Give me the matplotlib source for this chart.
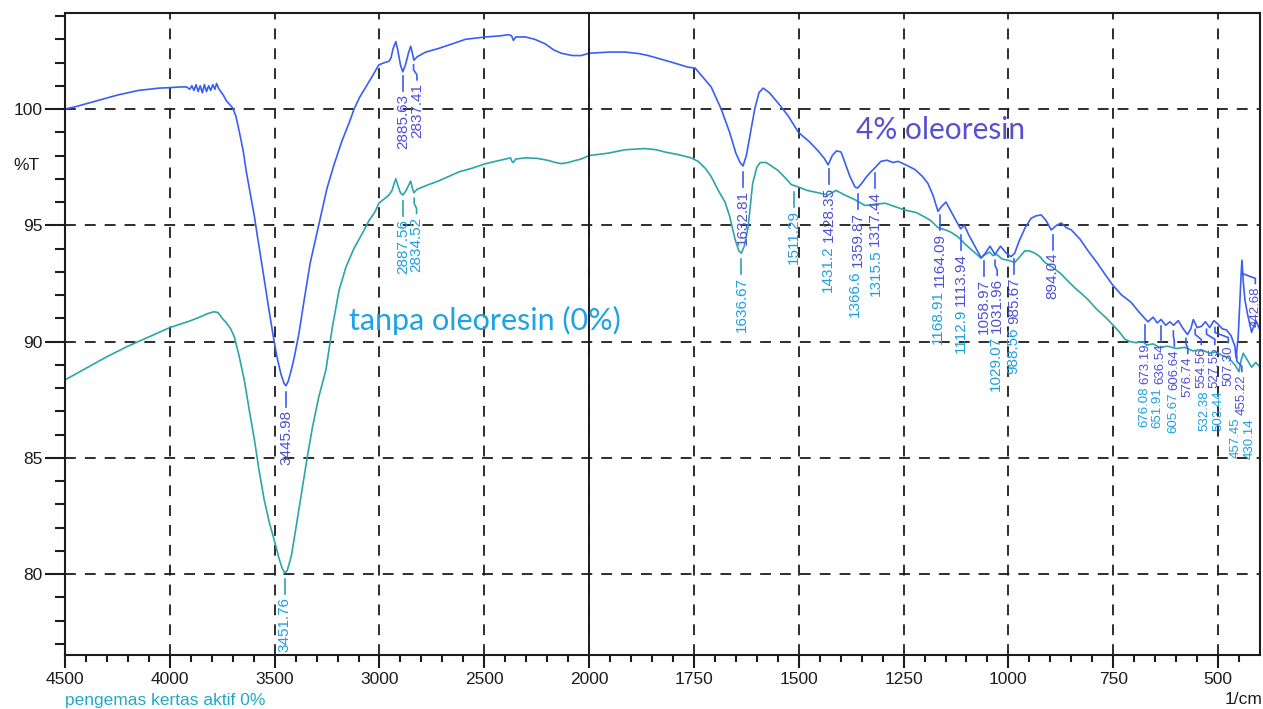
import matplotlib
matplotlib.use("Agg")
import matplotlib.pyplot as plt
import numpy as np
from matplotlib.ticker import FixedLocator

W, H = 1263, 709

# 4% oleoresin spectrum (wavenumber 1/cm, %T)
blue_wn = [4500, 4450, 4350, 4250, 4150, 4050, 4000, 3950, 3920, 3905, 3895, 3885, 3875, 3865,
           3855, 3845, 3835, 3825, 3815, 3805, 3795, 3785, 3777, 3765, 3745, 3730, 3715, 3700,
           3685, 3668, 3650, 3635, 3615, 3597, 3580, 3564, 3545, 3526, 3508, 3488, 3470, 3455,
           3446, 3435, 3420, 3407, 3385, 3359, 3330, 3300, 3288, 3250, 3217, 3180, 3145, 3121,
           3095, 3065, 3035, 3003, 2975, 2955, 2945, 2935, 2922, 2912, 2900, 2889, 2876, 2862,
           2851, 2843, 2836, 2820, 2779, 2720, 2670, 2589, 2494, 2420, 2385, 2370, 2361, 2350,
           2304, 2260, 2209, 2170, 2133, 2080, 2038, 2000, 1950, 1914, 1880, 1859, 1810, 1764,
           1747, 1730, 1709, 1685, 1665, 1650, 1640, 1633, 1625, 1615, 1605, 1595, 1585, 1570,
           1549, 1525, 1501, 1475, 1454, 1440, 1430, 1420, 1410, 1399, 1390, 1378, 1366, 1360,
           1350, 1338, 1328, 1317, 1304, 1290, 1275, 1263, 1245, 1223, 1205, 1192, 1180, 1168,
           1160, 1149, 1140, 1128, 1114, 1105, 1095, 1080, 1065, 1055, 1044, 1032, 1019, 1005,
           994, 985, 975, 960, 946, 935, 922, 910, 898, 885, 874, 862, 850, 829, 810, 789, 770,
           750, 730, 708, 690, 675, 667, 655, 645, 636, 625, 615, 606, 595, 585, 573, 565, 559,
           550, 540, 530, 520, 510, 500, 490, 480, 469, 460, 457, 452, 448, 445, 443, 440, 436,
           430, 425, 420, 410, 400]
blue_t = [100.0, 100.1, 100.35, 100.6, 100.8, 100.9, 100.92, 100.95, 100.95, 100.85, 101.0, 100.8,
          101.05, 100.75, 101.0, 100.7, 101.05, 100.75, 101.0, 100.8, 101.05, 100.85, 101.1, 100.85,
          100.6, 100.35, 100.2, 100.05, 99.7, 99.0, 98.2, 97.3, 96.3, 95.4, 94.4, 93.5, 92.4, 91.3,
          90.3, 89.3, 88.6, 88.2, 88.1, 88.3, 88.8, 89.3, 90.3, 91.8, 93.4, 94.6, 95.1, 96.6, 97.6,
          98.6, 99.4, 100.0, 100.5, 100.95, 101.4, 101.9, 102.0, 102.05, 102.2, 102.6, 102.9, 102.5,
          101.9, 101.6, 101.9, 102.4, 102.7, 102.4, 102.1, 102.25, 102.45, 102.6, 102.75, 103.0,
          103.1, 103.15, 103.2, 103.15, 102.95, 103.1, 103.1, 103.0, 102.8, 102.55, 102.4, 102.3,
          102.3, 102.4, 102.45, 102.45, 102.38, 102.3, 102.05, 101.8, 101.76, 101.4, 100.95, 100.0,
          99.0, 98.1, 97.7, 97.55, 98.0, 99.0, 100.0, 100.7, 100.9, 100.7, 100.25, 99.7, 99.0, 98.6,
          98.2, 97.9, 97.6, 98.0, 98.2, 98.15, 97.7, 97.1, 96.65, 96.6, 96.8, 97.1, 97.3, 97.5,
          97.75, 97.8, 97.7, 97.75, 97.6, 97.4, 97.1, 96.8, 96.3, 95.6, 95.8, 96.0, 95.7, 95.3,
          94.85, 95.0, 94.6, 94.1, 93.6, 93.8, 94.1, 93.75, 94.1, 93.8, 93.65, 93.8, 94.3, 94.9,
          95.3, 95.4, 95.45, 95.2, 94.8, 95.0, 95.1, 94.9, 94.8, 94.4, 93.9, 93.4, 92.9, 92.4,
          92.0, 91.7, 91.3, 91.0, 90.85, 91.05, 90.8, 90.95, 90.7, 90.85, 90.7, 90.9, 90.6, 90.3,
          90.55, 90.95, 90.6, 90.65, 90.85, 90.6, 90.9, 90.75, 90.55, 90.5, 90.25, 89.8, 89.3,
          90.2, 91.8, 92.9, 93.5, 92.6, 91.8, 91.2, 90.8, 90.4, 90.9, 90.5]

# tanpa oleoresin (0%) spectrum
teal_wn = [4500, 4400, 4300, 4200, 4100, 4000, 3950, 3900, 3858, 3820, 3790, 3770, 3750, 3730,
           3710, 3692, 3670, 3644, 3620, 3597, 3575, 3550, 3525, 3500, 3480, 3464, 3452, 3440,
           3420, 3400, 3370, 3345, 3320, 3290, 3255, 3225, 3193, 3160, 3122, 3085, 3050, 3020,
           3003, 2975, 2955, 2940, 2930, 2922, 2912, 2900, 2889, 2876, 2862, 2851, 2843, 2836,
           2820, 2780, 2720, 2670, 2620, 2560, 2494, 2447, 2400, 2375, 2368, 2362, 2350, 2304,
           2250, 2200, 2160, 2133, 2100, 2060, 2038, 2000, 1955, 1914, 1866, 1840, 1819, 1790,
           1757, 1740, 1723, 1709, 1692, 1676, 1665, 1652, 1643, 1637, 1630, 1621, 1617, 1610,
           1600, 1592, 1578, 1565, 1549, 1530, 1518, 1501, 1480, 1454, 1430, 1411, 1390, 1366,
           1342, 1320, 1294, 1270, 1246, 1220, 1199, 1185, 1168, 1150, 1137, 1120, 1104, 1085,
           1066, 1055, 1045, 1037, 1028, 1015, 1001, 985, 975, 961, 950, 937, 925, 913, 895, 874,
           858, 841, 825, 810, 790, 766, 750, 735, 722, 710, 695, 680, 670, 655, 640, 620, 600,
           580, 560, 540, 520, 505, 490, 475, 460, 450, 445, 440, 430, 420, 410, 400]
teal_t = [88.35, 88.85, 89.35, 89.8, 90.2, 90.6, 90.75, 90.9, 91.05, 91.2, 91.28, 91.25, 91.0,
          90.8, 90.55, 90.2, 89.4, 88.3, 87.0, 85.8, 84.5, 83.2, 82.2, 81.4, 80.7, 80.25, 80.05,
          80.15, 80.8, 81.9, 83.6, 85.0, 86.3, 87.6, 88.8, 90.6, 92.2, 93.2, 94.0, 94.6, 95.2,
          95.6, 95.95, 96.15, 96.3, 96.5, 96.8, 97.0, 96.7, 96.4, 96.3, 96.45, 96.7, 96.9, 96.6,
          96.4, 96.55, 96.7, 96.9, 97.1, 97.3, 97.45, 97.65, 97.75, 97.85, 97.9, 97.75, 97.7,
          97.85, 97.9, 97.88, 97.8, 97.7, 97.65, 97.7, 97.8, 97.85, 98.0, 98.1, 98.25, 98.3,
          98.25, 98.15, 98.05, 97.9, 97.75, 97.45, 97.1, 96.5, 96.0, 95.4, 94.4, 93.9, 93.8,
          94.1, 94.9, 95.6, 96.8, 97.5, 97.7, 97.7, 97.55, 97.35, 97.0, 96.75, 96.65, 96.5,
          96.4, 96.3, 96.5, 96.3, 96.1, 95.85, 95.9, 95.95, 95.8, 95.65, 95.55, 95.35, 95.2,
          94.9, 94.8, 94.7, 94.5, 94.2, 93.9, 93.6, 93.75, 93.85, 93.7, 93.75, 93.55, 93.5,
          93.4, 93.6, 93.9, 93.9, 93.8, 93.65, 93.4, 93.2, 92.9, 92.6, 92.3, 92.05, 91.8, 91.4,
          91.0, 90.7, 90.4, 90.1, 90.0, 89.95, 90.0, 89.85, 89.9, 89.75, 89.8, 89.7, 89.75,
          89.6, 89.65, 89.5, 89.55, 89.4, 89.3, 89.0, 88.7, 89.2, 89.5, 89.2, 88.9, 89.1, 88.9]

blue_peaks = ["3445.98", "2885.63", "2837.41", "1632.81", "1428.35", "1359.87", "1317.44",
              "1164.09", "1113.94", "1058.97", "1031.96", "985.67", "894.04", "673.19",
              "636.54", "606.64", "576.74", "554.56", "527.55", "507.30", "455.22", "442.68"]
teal_peaks = ["3451.76", "2887.56", "2834.52", "1636.67", "1511.29", "1431.2", "1366.6",
              "1315.5", "1168.91", "1112.9", "1029.07", "988.56", "676.08", "651.91",
              "605.67", "532.38", "503.44", "457.45", "430.14"]

x_major = [4500, 4000, 3500, 3000, 2500, 2000, 1750, 1500, 1250, 1000, 750, 500]
y_major = [80, 85, 90, 95, 100]

BLUE = "#3a5ef5"
TEAL = "#2ba5aa"
BLUE_TXT = "#4f4fd6"
TEAL_TXT = "#1e9fe2"
INK = "#1c1c1c"


def fwd(w):
    # split scale: 500 1/cm per unit above 2000, 250 below
    w = np.asarray(w, dtype=float)
    return np.where(w >= 2000, (w - 2000) / 500.0, (w - 2000) / 250.0)


def inv(p):
    p = np.asarray(p, dtype=float)
    return np.where(p >= 0, 2000 + p * 500.0, 2000 + p * 250.0)


def spread(xs, gap, right):
    xs = np.asarray(xs, dtype=float)
    order = np.argsort(xs)
    s = xs[order].copy()
    for i in range(1, len(s)):
        s[i] = max(s[i], s[i - 1] + gap)
    if s[-1] > right:
        s[-1] = right
        for i in range(len(s) - 2, -1, -1):
            s[i] = min(s[i], s[i + 1] - gap)
    out = np.empty_like(s)
    out[order] = s
    return out


def add_peak_labels(fig, ax, wn, tr, peaks, line_color, text_color, placed):
    renderer = fig.canvas.get_renderer()
    to_px = ax.transData.transform
    to_data = ax.transData.inverted().transform
    pk = np.array([float(p) for p in peaks])
    curve = np.interp(pk, np.array(wn)[::-1], np.array(tr)[::-1])
    pts = to_px(np.column_stack([pk, curve]))
    lx = spread(pts[:, 0], 13.5, W - 7)

    for label, w, (px, py), x in zip(peaks, pk, pts, lx):
        size = 9.5 if w < 700 else 11
        top = py - 24
        t = ax.text(0, 0, label, rotation=90, ha="center", va="top", color=text_color,
                    fontsize=size, family="Liberation Sans")
        length = t.get_window_extent(renderer).height
        moved = False
        again = True
        while again:
            again = False
            for ox, otop, obot in placed:
                if abs(ox - x) < 10 and top > obot and top - length < otop:
                    top = obot - 3
                    moved = True
                    again = True
        placed.append((x, top, top - length))
        t.set_position(to_data((x, top)))
        if not moved:
            seg = np.array([[px, py - 6], [px, py - 11], [x, py - 16], [x, py - 21]])
            seg = to_data(seg)
            ax.plot(seg[:, 0], seg[:, 1], color=line_color, lw=1.2)


fig = plt.figure(figsize=(W / 100, H / 100), dpi=100)
ax = fig.add_axes([65 / W, (H - 655) / H, 1195 / W, 642 / H])
ax.set_xscale("function", functions=(fwd, inv))
ax.set_xlim(4500, 400)
ax.set_ylim(76.52, 104.13)

ax.plot(teal_wn, teal_t, color=TEAL, lw=1.2)
ax.plot(blue_wn, blue_t, color=BLUE, lw=1.2)

ax.xaxis.set_major_locator(FixedLocator(x_major))
x_minor = [v for v in range(4400, 2000, -100) if v % 500] + [v for v in range(1950, 400, -50) if v % 250]
ax.xaxis.set_minor_locator(FixedLocator(x_minor))
ax.yaxis.set_major_locator(FixedLocator(y_major))
ax.yaxis.set_minor_locator(FixedLocator([v for v in range(77, 105) if v % 5]))
ax.set_xticklabels([str(v) for v in x_major])
ax.set_yticklabels([str(v) for v in y_major])

ax.grid(True, which="major", color=INK, lw=1.3, ls=(0, (6, 5)))
ax.axvline(2000, color=INK, lw=1.4)
for sp in ax.spines.values():
    sp.set_color(INK)
    sp.set_linewidth(1.5)

ax.tick_params(axis="x", which="major", length=9.4, width=1.5, pad=3, color=INK,
               labelsize=12.5, labelcolor=INK)
ax.tick_params(axis="x", which="minor", length=5, width=1.5, color=INK)
ax.tick_params(axis="y", which="major", length=14.4, width=1.5, pad=1.5, color=INK,
               labelsize=12.5, labelcolor=INK)
ax.tick_params(axis="y", which="minor", length=7.2, width=1.5, color=INK)
for lab in ax.get_xticklabels() + ax.get_yticklabels():
    lab.set_family("Liberation Sans")

placed = []
add_peak_labels(fig, ax, blue_wn, blue_t, blue_peaks, BLUE, BLUE_TXT, placed)
add_peak_labels(fig, ax, teal_wn, teal_t, teal_peaks, TEAL, TEAL_TXT, placed)

ax.text(1363, 99.1, "4% oleoresin", color="#5a4fd0", fontsize=21.5, family="Lato",
        va="center", ha="left")
ax.text(3145, 90.9, "tanpa oleoresin (0%)", color="#1ea3e6", fontsize=22, family="Lato",
        va="center", ha="left")

fig.text(13 / W, 1 - 165 / H, "%T", fontsize=12.5, family="Liberation Sans", color=INK,
         va="center", ha="left")
fig.text(1262 / W, 1 - 700 / H, "1/cm", fontsize=12.5, family="Liberation Sans", color=INK,
         va="center", ha="right")
fig.text(65 / W, 1 - 700 / H, "pengemas kertas aktif 0%", fontsize=12.5,
         family="Liberation Sans", color="#22a8c8", va="center", ha="left")

fig.savefig("out.png", dpi=100)
